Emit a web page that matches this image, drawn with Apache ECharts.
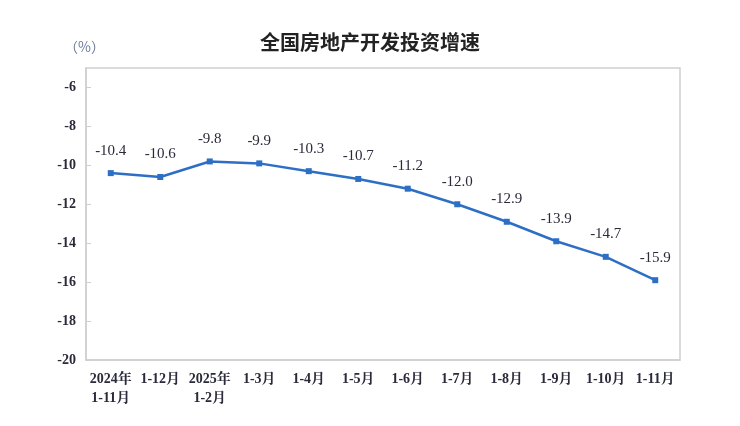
<!DOCTYPE html>
<html>
<head>
<meta charset="utf-8">
<script src="https://cdn.jsdelivr.net/npm/echarts@6/dist/echarts.min.js"></script>
<style>html,body{margin:0;padding:0;background:#fff}#c{width:740px;height:426px}</style>
</head>
<body>
<div id="c"></div>
<script>
const categories = ['2024年\n1-11月','1-12月','2025年\n1-2月','1-3月','1-4月','1-5月','1-6月','1-7月','1-8月','1-9月','1-10月','1-11月'];
const growth = [-10.4,-10.6,-9.8,-9.9,-10.3,-10.7,-11.2,-12.0,-12.9,-13.9,-14.7,-15.9];
const yTicks = {min:-20, max:-5, interval:2};
const titleText = '全国房地产开发投资增速';
const unitText = '（%）';

const serif = '"Liberation Serif","Times New Roman","Noto Serif CJK SC","Noto Sans CJK SC",serif';
const chart = echarts.init(document.getElementById('c'), null, {renderer:'canvas'});
chart.setOption({
  animation:false,
  title:{text:titleText,left:'center',top:27,textStyle:{fontFamily:'"Noto Sans CJK SC",sans-serif',fontSize:20,fontWeight:'bold',color:'#222'}},
  graphic:[{type:'text',left:64,top:40,style:{text:unitText,fontFamily:'"Noto Sans CJK SC",sans-serif',fontSize:14,fill:'#6a7a9a'}}],
  grid:{left:86,right:60,top:68,bottom:66,show:true,borderColor:'#cfcfcf',borderWidth:1.5},
  xAxis:{type:'category',data:categories,boundaryGap:true,
    axisLine:{lineStyle:{color:'#cfcfcf',width:1.5}},
    axisTick:{inside:true,length:5,lineStyle:{color:'#cfcfcf'}},
    axisLabel:{interval:0,margin:10,fontFamily:serif,fontSize:14,fontWeight:'bold',color:'#2a2a3a',lineHeight:19}},
  yAxis:{type:'value',min:yTicks.min,max:yTicks.max,interval:yTicks.interval,
    splitLine:{show:false},
    axisLine:{show:true,lineStyle:{color:'#cfcfcf',width:1.5}},
    axisTick:{show:true,inside:true,length:5,lineStyle:{color:'#cfcfcf'}},
    axisLabel:{showMaxLabel:false,margin:10,fontFamily:serif,fontSize:14,fontWeight:'bold',color:'#2a2a3a'}},
  series:[{type:'line',data:growth,symbol:'rect',symbolSize:6,
    lineStyle:{color:'#2e6fc6',width:2.5},itemStyle:{color:'#2e6fc6'},
    label:{show:true,position:'top',distance:12,fontFamily:serif,fontSize:15,color:'#2a2a3a',formatter:p=>p.value.toFixed(1)}}]
});
</script>
</body>
</html>
